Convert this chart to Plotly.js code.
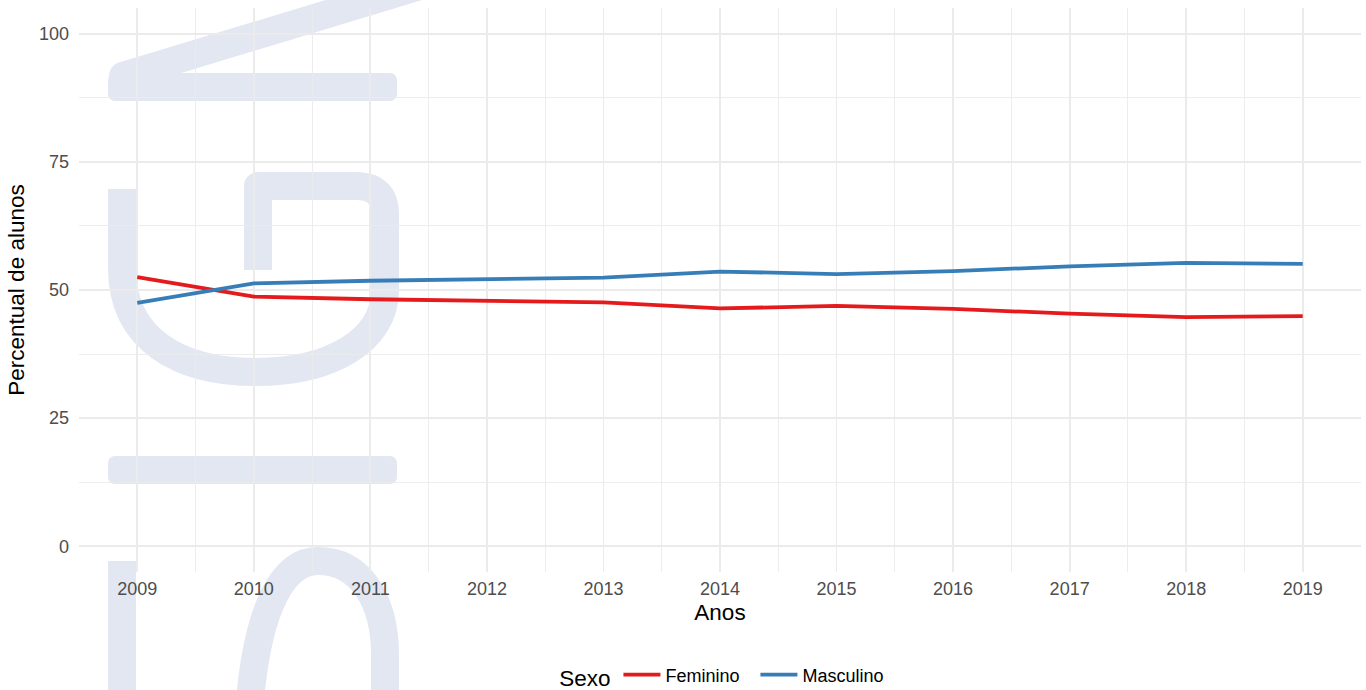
<!DOCTYPE html>
<html>
<head>
<meta charset="utf-8">
<script src="https://cdn.plot.ly/plotly-3.0.1.min.js"></script>
<style>
  html, body { margin: 0; padding: 0; background: #ffffff; }
  #wrap { position: relative; width: 1366px; height: 690px; overflow: hidden; }
  #wm { position: absolute; left: 0; top: 0; }
  #chart { position: absolute; left: 0; top: 0; width: 1366px; height: 690px; }
</style>
</head>
<body>
<div id="wrap">
  <svg id="wm" width="1366" height="690" xmlns="http://www.w3.org/2000/svg">
    <g fill="#e2e7f2" stroke="none">
      <rect x="108" y="73" width="289" height="28" rx="7"/>
      <rect x="108" y="456" width="289" height="28" rx="7"/>
    </g>
    <g fill="none" stroke="#e2e7f2" stroke-width="28" stroke-linejoin="round">
      <!-- N diagonal -->
      <path d="M 123,76 L 430,-17" stroke-linecap="round"/>
      <!-- G -->
      <path d="M 122,189 L 122,268 C 122,340 180,372 255,372 C 332,372 385,340 385,290 L 385,214 Q 385,186 356,186 L 258,186 L 258,270" stroke-linecap="butt"/>
      <!-- S -->
      <path d="M 122,561 L 122,700" stroke-linecap="butt"/>
      <path d="M 250,700 C 258,610 282,561 318,561 C 360,561 385,600 385,655 L 385,700" stroke-linecap="butt"/>
    </g>
  </svg>
  <div id="chart"></div>
</div>
<script>
const anos = [2009, 2010, 2011, 2012, 2013, 2014, 2015, 2016, 2017, 2018, 2019];
const feminino = [52.5, 48.7, 48.2, 47.9, 47.6, 46.4, 46.9, 46.3, 45.4, 44.7, 44.9];
const masculino = [47.5, 51.3, 51.8, 52.1, 52.4, 53.6, 53.1, 53.7, 54.6, 55.3, 55.1];
const seriesNames = ["Feminino", "Masculino"];
const yTicks = [0, 25, 50, 75, 100];

const fontFam = '"Liberation Sans", Arial, Helvetica, sans-serif';

const traces = [
  {x: anos, y: feminino, name: seriesNames[0], type: 'scatter', mode: 'lines',
   line: {color: '#E41A1C', width: 3.8}},
  {x: anos, y: masculino, name: seriesNames[1], type: 'scatter', mode: 'lines',
   line: {color: '#377EB8', width: 3.8}}
];

const layout = {
  width: 1366, height: 690,
  margin: {l: 79, r: 5, t: 8, b: 118, autoexpand: false},
  paper_bgcolor: 'rgba(0,0,0,0)',
  plot_bgcolor: 'rgba(0,0,0,0)',
  font: {family: fontFam, color: '#4d4d4d'},
  showlegend: true,
  xaxis: {
    range: [2008.5, 2019.5],
    tickmode: 'array', tickvals: anos, ticktext: anos.map(String),
    ticks: '', showline: false, zeroline: false,
    showgrid: true, gridcolor: '#ebebeb', gridwidth: 1.8,
    minor: {dtick: 0.5, tick0: 2008.5, showgrid: true, gridcolor: '#ebebeb', gridwidth: 0.9, ticks: ''},
    tickfont: {size: 18, color: '#4d4d4d', family: fontFam},
    ticklabelstandoff: 4,
    title: {text: 'Anos', font: {size: 22.5, color: '#000000', family: fontFam}, standoff: 6},
    automargin: false, fixedrange: true
  },
  yaxis: {
    range: [-5, 105],
    tickmode: 'array', tickvals: yTicks, ticktext: yTicks.map(String),
    ticks: '', showline: false, zeroline: false,
    showgrid: true, gridcolor: '#ebebeb', gridwidth: 1.8,
    minor: {dtick: 12.5, tick0: 0, showgrid: true, gridcolor: '#ebebeb', gridwidth: 0.9, ticks: ''},
    tickfont: {size: 18, color: '#4d4d4d', family: fontFam},
    ticklabelstandoff: 9,
    title: {text: 'Percentual de alunos', font: {size: 22.5, color: '#000000', family: fontFam}, standoff: 8},
    automargin: false, fixedrange: true
  },
  legend: {
    orientation: 'h', x: 0.504, xanchor: 'center', y: -0.185, yanchor: 'middle',
    font: {size: 18, color: '#000000', family: fontFam},
    title: {text: 'Sexo', side: 'left', font: {size: 22.5, color: '#000000', family: fontFam}},
    bgcolor: 'rgba(0,0,0,0)', itemwidth: 37, tracegroupgap: 0,
    entrywidth: 85, entrywidthmode: 'pixels'
  }
};

Plotly.newPlot('chart', traces, layout, {displayModeBar: false, staticPlot: true});
</script>
</body>
</html>
